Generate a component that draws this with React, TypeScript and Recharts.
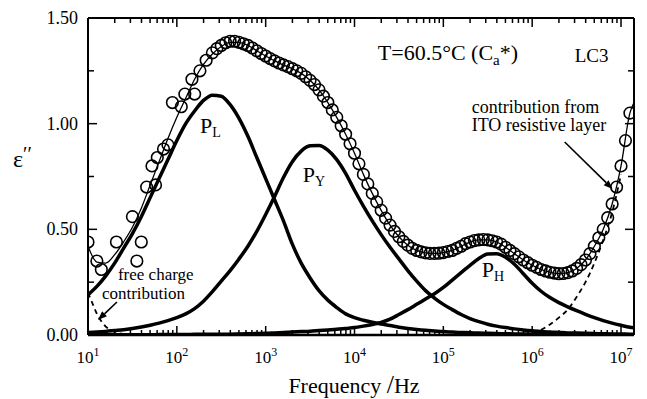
import {
  ComposedChart,
  Label,
  Line,
  ReferenceDot,
  ReferenceLine,
  Scatter,
  XAxis,
  YAxis,
} from "recharts";

const FONT = '"Liberation Serif", "Times New Roman", serif';
const X_DOMAIN: [number, number] = [10, 1.4e7];
const Y_DOMAIN: [number, number] = [0, 1.5];

// log10(frequency / Hz) grid shared by the fitted curves
const gridLogF = [
  1.0, 1.1, 1.2, 1.3, 1.4, 1.5, 1.6, 1.7, 1.8, 1.9,
  2.0, 2.1, 2.2, 2.3, 2.4, 2.5, 2.6, 2.7, 2.8, 2.9,
  3.0, 3.1, 3.2, 3.3, 3.4, 3.5, 3.6, 3.7, 3.8, 3.9,
  4.0, 4.1, 4.2, 4.3, 4.4, 4.5, 4.6, 4.7, 4.8, 4.9,
  5.0, 5.1, 5.2, 5.3, 5.4, 5.5, 5.6, 5.7, 5.8, 5.9,
  6.0, 6.1, 6.2, 6.3, 6.4, 6.5, 6.6, 6.7, 6.8, 6.9,
  7.0, 7.1, 7.146,
];

// total fit (thin line)
const fitValues = [
  0.42, 0.345, 0.34, 0.38, 0.44, 0.51, 0.6, 0.71, 0.82, 0.93,
  1.03, 1.12, 1.21, 1.28, 1.33, 1.365, 1.385, 1.385, 1.37, 1.345,
  1.32, 1.297, 1.278, 1.26, 1.238, 1.205, 1.16, 1.1, 1.03, 0.95,
  0.86, 0.76, 0.67, 0.59, 0.52, 0.465, 0.425, 0.4, 0.389, 0.386,
  0.39, 0.4, 0.42, 0.44, 0.45, 0.45, 0.44, 0.415, 0.385, 0.355,
  0.33, 0.31, 0.297, 0.29, 0.295, 0.315, 0.355, 0.42, 0.5, 0.62,
  0.8, 1.05, 1.1,
];

const pLValues = [
  0.19, 0.23, 0.28, 0.34, 0.41, 0.48, 0.56, 0.65, 0.74, 0.83,
  0.92, 1.0, 1.06, 1.11, 1.135, 1.13, 1.09, 1.025, 0.94, 0.84,
  0.74, 0.64, 0.54, 0.43, 0.34, 0.27, 0.21, 0.165, 0.13, 0.1,
  0.082, 0.07, 0.06, 0.052, 0.045, 0.037, 0.031, 0.026, 0.022, 0.019,
  0.016, 0.014, 0.012, 0.011, 0.009, 0.008, 0.007, 0.006, 0.005, 0.005,
  0.004, 0.004, 0.003, 0.003, 0.003, 0.002, 0.002, 0.002, 0.002, 0.001,
  0.001, 0.001, 0.001,
];

const pYValues = [
  0.012, 0.014, 0.017, 0.021, 0.025, 0.031, 0.038, 0.046, 0.056, 0.068,
  0.082, 0.1, 0.125, 0.16, 0.205, 0.255, 0.305, 0.36, 0.42, 0.49,
  0.57, 0.655, 0.745, 0.82, 0.87, 0.895, 0.897, 0.875, 0.83, 0.765,
  0.685, 0.61, 0.54, 0.475, 0.415, 0.36, 0.305, 0.255, 0.21, 0.175,
  0.145, 0.12, 0.097, 0.078, 0.063, 0.051, 0.042, 0.035, 0.029, 0.024,
  0.02, 0.017, 0.014, 0.012, 0.01, 0.009, 0.008, 0.007, 0.006, 0.005,
  0.005, 0.004, 0.004,
];

const pHValues = [
  0.001, 0.001, 0.001, 0.001, 0.001, 0.001, 0.001, 0.001, 0.002, 0.002,
  0.002, 0.002, 0.003, 0.003, 0.003, 0.004, 0.004, 0.005, 0.006, 0.007,
  0.008, 0.01, 0.012, 0.014, 0.016, 0.018, 0.021, 0.024, 0.027, 0.031,
  0.035, 0.042, 0.05, 0.06, 0.075, 0.097, 0.12, 0.145, 0.17, 0.195,
  0.225, 0.26, 0.295, 0.33, 0.362, 0.383, 0.385, 0.368, 0.335, 0.29,
  0.245, 0.207, 0.177, 0.153, 0.133, 0.115, 0.098, 0.082, 0.068, 0.056,
  0.046, 0.037, 0.034,
];

// free charge contribution (dashed, low frequency)
const freeLogF = [1.0, 1.05, 1.1, 1.15, 1.2, 1.25, 1.3, 1.4, 1.5, 1.7, 2.0];
const freeValues = [0.2, 0.15, 0.1, 0.065, 0.04, 0.025, 0.015, 0.005, 0.001, 0, 0];

// ITO resistive layer contribution (dashed, high frequency)
const itoLogF = [5.6, 5.8, 5.9, 6.0, 6.1, 6.2, 6.3, 6.4, 6.5, 6.6, 6.7, 6.8, 6.9, 7.0];
const itoValues = [0, 0, 0.003, 0.01, 0.025, 0.05, 0.082, 0.12, 0.18, 0.25, 0.34, 0.45, 0.58, 0.76];

// measured points (open circles)
const measuredLogF = [
  1.0, 1.1, 1.15, 1.32, 1.5, 1.55, 1.6, 1.66, 1.72, 1.76, 1.78, 1.85, 1.9, 1.95,
  2.05, 2.09, 2.17, 2.2, 2.26, 2.33, 2.4, 2.45,
  2.5, 2.55, 2.6, 2.65, 2.7, 2.75, 2.8, 2.85, 2.9, 2.95,
  3.0, 3.05, 3.1, 3.15, 3.2, 3.25, 3.3, 3.35, 3.4, 3.45,
  3.5, 3.55, 3.6, 3.65, 3.7, 3.75, 3.8, 3.85, 3.9, 3.95,
  4.0, 4.05, 4.1, 4.15, 4.2, 4.25, 4.3, 4.35, 4.4, 4.45,
  4.5, 4.55, 4.6, 4.65, 4.7, 4.75, 4.8, 4.85, 4.9, 4.95,
  5.0, 5.05, 5.1, 5.15, 5.2, 5.25, 5.3, 5.35, 5.4, 5.45,
  5.5, 5.55, 5.6, 5.65, 5.7, 5.75, 5.8, 5.85, 5.9, 5.95,
  6.0, 6.05, 6.1, 6.15, 6.2, 6.25, 6.3, 6.35, 6.4, 6.45,
  6.5, 6.55, 6.6, 6.65, 6.7, 6.75, 6.8, 6.85, 6.9, 6.95,
  7.0, 7.05, 7.1,
];
const measuredValues = [
  0.44, 0.35, 0.31, 0.44, 0.56, 0.35, 0.44, 0.7, 0.8, 0.71, 0.84, 0.88, 0.9, 1.1,
  1.08, 1.14, 1.21, 1.14, 1.25, 1.3, 1.335, 1.355,
  1.37, 1.383, 1.39, 1.39, 1.385, 1.378, 1.37, 1.358, 1.345, 1.332,
  1.32, 1.308, 1.297, 1.287, 1.278, 1.27, 1.26, 1.25, 1.238, 1.222,
  1.205, 1.185, 1.16, 1.13, 1.1, 1.065, 1.03, 0.99, 0.95, 0.905,
  0.86, 0.81, 0.76, 0.715, 0.67, 0.63, 0.59, 0.553, 0.52, 0.49,
  0.465, 0.443, 0.425, 0.41, 0.4, 0.393, 0.389, 0.386, 0.386, 0.387,
  0.39, 0.395, 0.4, 0.41, 0.42, 0.432, 0.44, 0.447, 0.45, 0.452,
  0.45, 0.446, 0.44, 0.43, 0.415, 0.4, 0.385, 0.37, 0.355, 0.342,
  0.33, 0.32, 0.31, 0.303, 0.297, 0.293, 0.29, 0.291, 0.295, 0.303,
  0.315, 0.333, 0.355, 0.385, 0.42, 0.46, 0.5, 0.555, 0.62, 0.7,
  0.8, 0.92, 1.05,
];

const decadeExponents = [1, 2, 3, 4, 5, 6, 7];
const minorMultipliers = [2, 3, 4, 5, 6, 7, 8, 9];
const yLabelTicks = [0, 0.5, 1, 1.5];
const yMinorTicks = [0.25, 0.75, 1.25];

const toPoints = (logF: number[], vals: number[]) =>
  logF.map((l, i) => ({ f: Math.pow(10, l), v: vals[i] }));

const fitData = toPoints(gridLogF, fitValues);
const pLData = toPoints(gridLogF, pLValues);
const pYData = toPoints(gridLogF, pYValues);
const pHData = toPoints(gridLogF, pHValues);
const freeData = toPoints(freeLogF, freeValues);
const itoData = toPoints(itoLogF, itoValues);
const measuredData = toPoints(measuredLogF, measuredValues);

const xTicks = decadeExponents
  .flatMap((e) => [Math.pow(10, e), ...minorMultipliers.map((m) => m * Math.pow(10, e))])
  .filter((t) => t <= X_DOMAIN[1]);
const yTicks = [...yLabelTicks, ...yMinorTicks].sort((a, b) => a - b);

const isDecade = (v: number) => {
  const l = Math.log10(v);
  return Math.abs(l - Math.round(l)) < 1e-9;
};
const at = (logF: number) => Math.pow(10, logF);

function BottomTick({ x, y, payload }: any) {
  const major = isDecade(payload.value);
  return (
    <g>
      <line x1={x} y1={y} x2={x} y2={y - (major ? 9 : 5)} stroke="#000" strokeWidth={1.5} />
      {major && (
        <text x={x} y={y + 28} textAnchor="middle" fontFamily={FONT} fontSize={17} fill="#000">
          10
          <tspan dy={-7} fontSize={12}>
            {Math.round(Math.log10(payload.value))}
          </tspan>
        </text>
      )}
    </g>
  );
}

function TopTick({ x, y, payload }: any) {
  const major = isDecade(payload.value);
  return <line x1={x} y1={y} x2={x} y2={y + (major ? 9 : 5)} stroke="#000" strokeWidth={1.5} />;
}

function LeftTick({ x, y, payload }: any) {
  const major = yLabelTicks.includes(payload.value);
  return (
    <g>
      <line x1={x} y1={y} x2={x + (major ? 9 : 6)} y2={y} stroke="#000" strokeWidth={1.5} />
      {major && (
        <text x={x - 10} y={y + 6} textAnchor="end" fontFamily={FONT} fontSize={18} fill="#000">
          {payload.value.toFixed(2)}
        </text>
      )}
    </g>
  );
}

function RightTick({ x, y, payload }: any) {
  const major = yLabelTicks.includes(payload.value);
  return <line x1={x} y1={y} x2={x - (major ? 9 : 6)} y2={y} stroke="#000" strokeWidth={1.5} />;
}

function Ring({ cx, cy }: any) {
  return <circle cx={cx} cy={cy} r={5.8} fill="none" stroke="#000" strokeWidth={1.6} />;
}

function Arrow({ x1, y1, x2, y2 }: any) {
  const ang = Math.atan2(y2 - y1, x2 - x1);
  const len = 9;
  const half = 3.5;
  const bx = x2 - len * Math.cos(ang);
  const by = y2 - len * Math.sin(ang);
  const px = -Math.sin(ang) * half;
  const py = Math.cos(ang) * half;
  return (
    <g>
      <line x1={x1} y1={y1} x2={bx} y2={by} stroke="#000" strokeWidth={1.6} />
      <polygon points={`${x2},${y2} ${bx + px},${by + py} ${bx - px},${by - py}`} fill="#000" />
    </g>
  );
}

const textShape = (content: React.ReactNode, size = 18) => (p: any) => (
  <text x={p.cx} y={p.cy} fontFamily={FONT} fontSize={size} fill="#000">
    {content}
  </text>
);

const xTitle = ({ viewBox }: any) => (
  <text
    x={viewBox.x + viewBox.width / 2 - 7}
    y={viewBox.y + 58}
    textAnchor="middle"
    fontFamily={FONT}
    fontSize={22}
    fill="#000"
  >
    Frequency <tspan fontSize={26}>/</tspan>Hz
  </text>
);

const yTitle = ({ viewBox }: any) => (
  <text x={viewBox.x + 13} y={viewBox.y + 149} fontFamily={FONT} fontSize={24} fill="#000">
    ε<tspan fontSize={20} dy={-6}>′′</tspan>
  </text>
);

const curve = { type: "monotone" as const, dataKey: "v", dot: false, activeDot: false, isAnimationActive: false };

export default function App() {
  return (
    <div style={{ position: "absolute", left: 0, top: 0, width: 647, height: 399, background: "#fff" }}>
      <ComposedChart width={647} height={399} margin={{ top: 0, right: 0, bottom: 0, left: 0 }}>
        <XAxis
          dataKey="f"
          type="number"
          scale="log"
          domain={X_DOMAIN}
          allowDataOverflow
          ticks={xTicks}
          interval={0}
          height={64}
          tickSize={0}
          tickMargin={0}
          tickLine={false}
          tick={BottomTick}
          axisLine={{ stroke: "#000", strokeWidth: 2.5 }}
        >
          <Label content={xTitle} />
        </XAxis>
        <XAxis
          xAxisId="top"
          orientation="top"
          dataKey="f"
          type="number"
          scale="log"
          domain={X_DOMAIN}
          allowDataOverflow
          ticks={xTicks}
          interval={0}
          height={18}
          tickSize={0}
          tickMargin={0}
          tickLine={false}
          tick={TopTick}
          axisLine={{ stroke: "#000", strokeWidth: 2 }}
        />
        <YAxis
          dataKey="v"
          type="number"
          domain={Y_DOMAIN}
          allowDataOverflow
          ticks={yTicks}
          interval={0}
          width={88}
          tickSize={0}
          tickMargin={0}
          tickLine={false}
          tick={LeftTick}
          axisLine={{ stroke: "#000", strokeWidth: 2 }}
        >
          <Label content={yTitle} />
        </YAxis>
        <YAxis
          yAxisId="right"
          orientation="right"
          dataKey="v"
          type="number"
          domain={Y_DOMAIN}
          allowDataOverflow
          ticks={yTicks}
          interval={0}
          width={13}
          tickSize={0}
          tickMargin={0}
          tickLine={false}
          tick={RightTick}
          axisLine={{ stroke: "#000", strokeWidth: 2 }}
        />

        <Line {...curve} data={freeData} stroke="#000" strokeWidth={1.8} strokeDasharray="5 4" />
        <Line {...curve} data={itoData} stroke="#000" strokeWidth={1.8} strokeDasharray="5 4" />
        <Line {...curve} data={pLData} stroke="#000" strokeWidth={3.5} />
        <Line {...curve} data={pYData} stroke="#000" strokeWidth={3.5} />
        <Line {...curve} data={pHData} stroke="#000" strokeWidth={3.5} />
        <Line {...curve} data={fitData} stroke="#000" strokeWidth={1.3} />
        <Scatter data={measuredData} dataKey="v" shape={Ring} isAnimationActive={false} />

        <ReferenceLine
          segment={[{ x: at(1.326), y: 0.156 }, { x: at(1.112), y: 0.071 }]}
          shape={Arrow}
        />
        <ReferenceLine
          segment={[{ x: at(6.366), y: 0.913 }, { x: at(6.905), y: 0.691 }]}
          shape={Arrow}
        />

        <ReferenceDot
          x={at(4.262)}
          y={1.301}
          shape={textShape(
            <>
              T=60.5°C (C<tspan dy={5} fontSize={15}>a</tspan>
              <tspan dy={-5}>*)</tspan>
            </>,
            22,
          )}
        />
        <ReferenceDot x={at(6.478)} y={1.292} shape={textShape("LC3", 19)} />
        <ReferenceDot
          x={at(2.26)}
          y={0.956}
          shape={textShape(
            <>
              P<tspan dy={4} fontSize={14}>L</tspan>
            </>,
            22,
          )}
        />
        <ReferenceDot
          x={at(3.418)}
          y={0.724}
          shape={textShape(
            <>
              P<tspan dy={4} fontSize={14}>Y</tspan>
            </>,
            22,
          )}
        />
        <ReferenceDot
          x={at(5.432)}
          y={0.274}
          shape={textShape(
            <>
              P<tspan dy={4} fontSize={14}>H</tspan>
            </>,
            22,
          )}
        />
        <ReferenceDot x={at(1.337)} y={0.2603} shape={textShape("free charge", 17)} />
        <ReferenceDot x={at(1.157)} y={0.1704} shape={textShape("contribution", 17)} />
        <ReferenceDot x={at(5.319)} y={1.051} shape={textShape("contribution from")} />
        <ReferenceDot x={at(5.319)} y={0.965} shape={textShape("ITO resistive layer")} />
      </ComposedChart>
    </div>
  );
}
